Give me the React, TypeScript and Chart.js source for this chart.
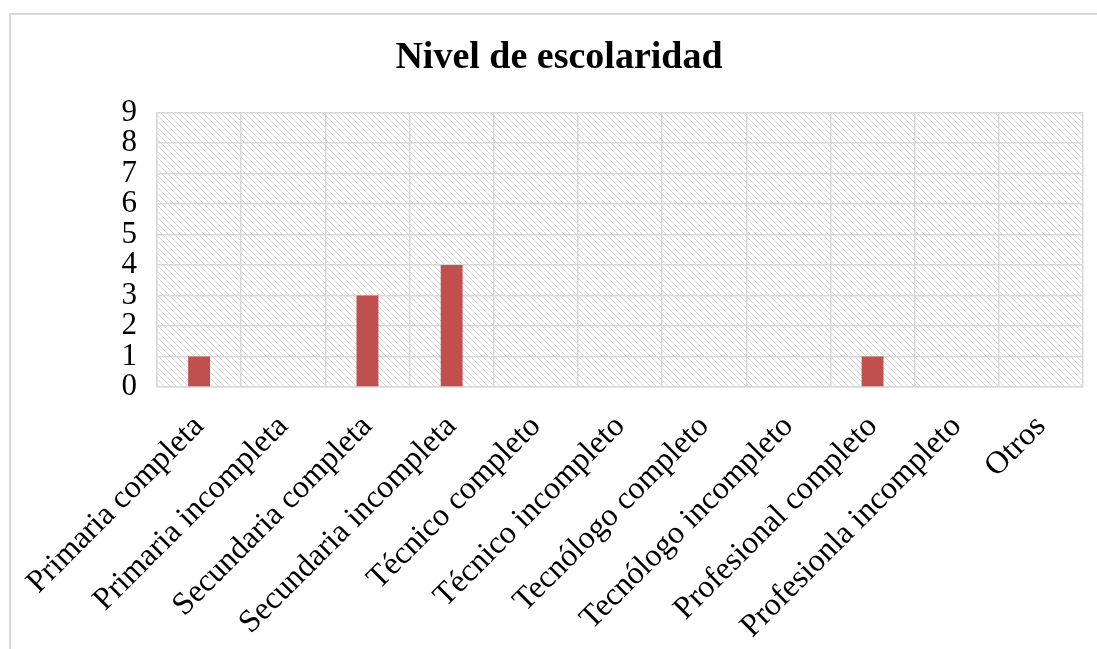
import React, { useEffect, useRef } from "react";
import { Chart, registerables } from "chart.js";

Chart.register(...registerables);

const categories = [
  "Primaria completa",
  "Primaria incompleta",
  "Secundaria completa",
  "Secundaria incompleta",
  "Técnico completo",
  "Técnico incompleto",
  "Tecnólogo completo",
  "Tecnólogo incompleto",
  "Profesional completo",
  "Profesionla incompleto",
  "Otros",
];
const values = [1, 0, 3, 4, 0, 0, 0, 0, 1, 0, 0];
const titleText = "Nivel de escolaridad";
const yMin = 0;
const yMax = 9;

const FONT = "'Liberation Serif', 'Times New Roman', serif";
const GRID = "#d9d9d9";

const hatchPlugin = {
  id: "hatch",
  beforeDraw(chart: any) {
    const { ctx, chartArea } = chart;
    if (!chartArea) return;
    const s = 6;
    const pc = document.createElement("canvas");
    pc.width = s;
    pc.height = s;
    const p = pc.getContext("2d")!;
    p.fillStyle = "#ffffff";
    p.fillRect(0, 0, s, s);
    p.strokeStyle = "#d6d6d6";
    p.lineWidth = 1;
    p.beginPath();
    p.moveTo(-1, -1);
    p.lineTo(s + 1, s + 1);
    p.moveTo(-1, s - 1);
    p.lineTo(1, s + 1);
    p.moveTo(s - 1, -1);
    p.lineTo(s + 1, 1);
    p.stroke();
    const pattern = ctx.createPattern(pc, "repeat");
    ctx.save();
    ctx.fillStyle = pattern;
    ctx.fillRect(
      chartArea.left,
      chartArea.top,
      chartArea.right - chartArea.left,
      chartArea.bottom - chartArea.top
    );
    ctx.restore();
  },
};

export default function App() {
  const ref = useRef<HTMLCanvasElement | null>(null);

  useEffect(() => {
    if (!ref.current) return;
    const chart = new Chart(ref.current, {
      type: "bar",
      data: {
        labels: categories,
        datasets: [
          {
            data: values,
            backgroundColor: "#C0504D",
            borderWidth: 0,
            barPercentage: 0.26,
            categoryPercentage: 1,
          },
        ],
      },
      options: {
        responsive: false,
        animation: false,
        layout: { padding: { left: 35, right: 14, top: 0, bottom: 0 } },
        plugins: {
          legend: { display: false },
          tooltip: { enabled: false },
          title: {
            display: true,
            text: titleText,
            color: "#000000",
            font: { family: FONT, size: 38, weight: "bold" },
            padding: { top: 35, bottom: 32 },
          },
        },
        scales: {
          x: {
            grid: { color: GRID, lineWidth: 1.5, drawTicks: false, offset: true },
            border: { display: true, color: GRID, width: 1.5 },
            ticks: {
              autoSkip: false,
              maxRotation: 45,
              minRotation: 45,
              color: "#000000",
              font: { family: FONT, size: 32 },
              padding: 21,
            },
            afterFit(scale: any) {
              scale.height = 262;
            },
          },
          y: {
            min: yMin,
            max: yMax,
            grid: { color: GRID, lineWidth: 1.5, drawTicks: false },
            border: { display: true, color: GRID, width: 1.5 },
            ticks: {
              stepSize: 1,
              autoSkip: false,
              color: "#000000",
              font: { family: FONT, size: 31, lineHeight: 1 },
              padding: 20,
            },
            afterFit(scale: any) {
              scale.width = 122;
            },
          },
        },
      },
      plugins: [hatchPlugin],
    });
    return () => chart.destroy();
  }, []);

  return (
    <div
      style={{
        position: "fixed",
        left: 0,
        top: 0,
        width: 1097,
        height: 649,
        background: "#ffffff",
        overflow: "hidden",
      }}
    >
      <div
        style={{
          position: "absolute",
          left: 9,
          top: 13,
          width: 1200,
          height: 800,
          border: "2px solid #d9d9d9",
        }}
      />
      <canvas
        ref={ref}
        width={1097}
        height={649}
        style={{ position: "absolute", left: 0, top: 0, width: 1097, height: 649 }}
      />
    </div>
  );
}
